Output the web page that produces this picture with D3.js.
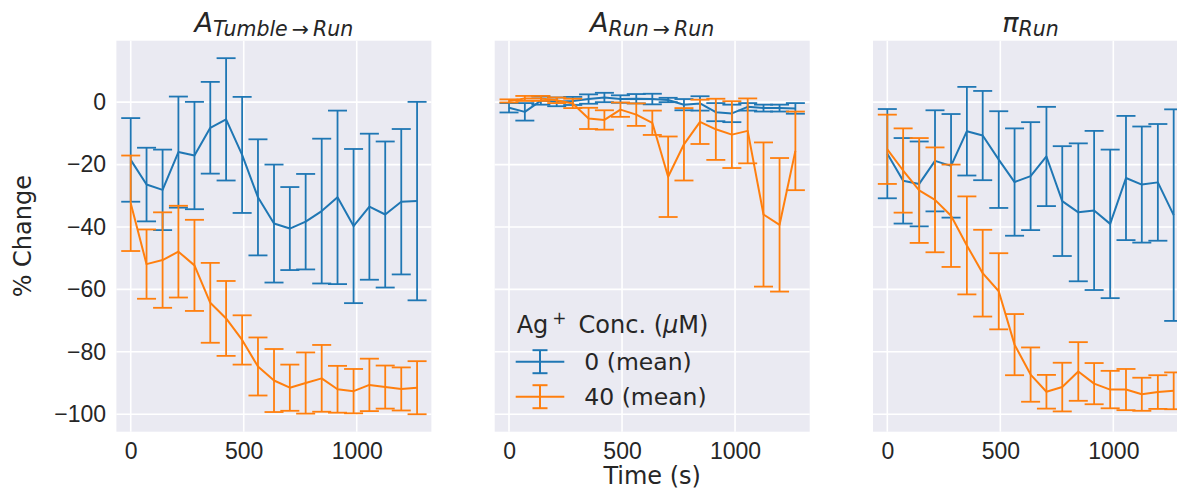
<!DOCTYPE html>
<meta charset="utf-8">
<title>Ag+ response</title>
<style>
body { margin: 0; background: #fff; }
svg { display: block; font-family: "DejaVu Sans", sans-serif; }
.tick text { fill: #262626; font-size: 23px; }
</style>
<svg width="1177" height="490"></svg>
<script src="https://cdn.jsdelivr.net/npm/d3@7"></script>
<script>

// sampling times (s)
var times = [0, 70, 141, 211, 282, 352, 422, 493, 563, 634, 704, 774, 845, 915, 986, 1056, 1126, 1197, 1267];

// A Tumble->Run, % change
var tumbleRunMean0  = [-18.5, -26.4, -28.1, -16.0, -17.1, -8.2, -5.5, -16.9, -30.5, -38.9, -40.5, -38.3, -34.9, -30.5, -39.7, -33.5, -36.0, -31.9, -31.7];
var tumbleRunErr0   = [13.4, 11.8, 12.9, 17.8, 17.2, 14.7, 19.6, 18.6, 18.6, 18.9, 13.3, 15.3, 23.2, 27.8, 24.7, 23.4, 23.4, 23.3, 31.8];
var tumbleRunMean40 = [-32.4, -51.9, -50.6, -47.9, -52.3, -64.3, -69.3, -76.2, -84.7, -89.2, -91.5, -90.0, -88.5, -92.0, -92.6, -90.6, -91.3, -91.9, -91.5];
var tumbleRunErr40  = [15.3, 11.1, 15.3, 14.7, 14.6, 12.8, 12.0, 7.9, 9.3, 10.1, 7.4, 9.8, 10.7, 7.5, 7.1, 8.4, 6.9, 6.9, 8.5];

// A Run->Run
var runRunMean0  = [-1.8, -3.1, 0.5, 0.1, 0.4, 1.0, 1.5, 1.0, 1.1, 1.0, 0.7, -0.8, -0.4, -3.2, -3.6, -1.5, -1.9, -1.9, -2.0];
var runRunErr0   = [1.5, 2.8, 1.3, 1.4, 1.3, 1.5, 1.5, 1.2, 1.5, 1.7, 0.7, 1.8, 2.3, 2.9, 2.8, 1.2, 1.1, 1.1, 1.7];
var runRunMean40 = [0.4, 1.2, 1.2, 0.6, -0.4, -5.2, -5.7, -2.4, -4.0, -6.6, -23.9, -13.5, -6.3, -8.7, -10.4, -9.2, -36.0, -39.3, -15.6];
var runRunErr40  = [0.5, 0.8, 0.8, 0.9, 1.5, 3.4, 3.1, 2.3, 3.6, 3.9, 12.9, 11.6, 7.1, 9.8, 10.7, 10.4, 23.1, 21.4, 12.6];

// pi Run
var piRunMean0  = [-16.5, -25.2, -26.2, -18.8, -20.4, -9.3, -10.7, -18.4, -25.6, -23.7, -17.4, -31.7, -35.3, -34.7, -39.0, -24.3, -26.4, -25.7, -36.2];
var piRunErr0   = [14.3, 13.7, 13.6, 16.2, 16.6, 14.2, 14.3, 15.5, 17.2, 17.3, 15.9, 17.6, 22.1, 25.5, 23.8, 19.9, 18.6, 18.7, 33.9];
var piRunMean40 = [-15.1, -21.9, -28.3, -31.3, -36.4, -45.9, -54.8, -60.6, -77.7, -87.3, -92.8, -91.3, -86.3, -90.2, -92.1, -92.1, -93.6, -92.9, -92.5];
var piRunErr40  = [11.1, 13.5, 16.8, 16.8, 16.4, 15.7, 13.9, 12.2, 9.8, 8.7, 5.4, 7.8, 9.4, 6.6, 6.0, 6.6, 5.3, 5.4, 5.9];

var concLabels = ["0 (mean)", "40 (mean)"];
var colors = ["#1f77b4", "#ff7f0e"];
var xTicks = [0, 500, 1000];
var yTicks = [0, -20, -40, -60, -80, -100];

var panels = [
  {main: "A", sub: "Tumble\u2009\u2192\u2009Run", series: [[tumbleRunMean0, tumbleRunErr0], [tumbleRunMean40, tumbleRunErr40]]},
  {main: "A", sub: "Run\u2009\u2192\u2009Run", series: [[runRunMean0, runRunErr0], [runRunMean40, runRunErr40]]},
  {main: "\u03c0", sub: "Run", series: [[piRunMean0, piRunErr0], [piRunMean40, piRunErr40]]}
];

var svg = d3.select("svg");
var pw = 315, ph = 391, plotTop = 40.7;
var lefts = [116.4, 494.7, 873];
var cap = 9.5;
var fmt = d3.format("d");

var x = d3.scaleLinear().domain([-63.35, 1330.35]).range([0, pw]);
var y = d3.scaleLinear().domain([-105.6, 19.7]).range([ph, 0]);

panels.forEach(function(p, i) {
  var g = svg.append("g").attr("transform", "translate(" + lefts[i] + "," + plotTop + ")");

  g.append("rect").attr("width", pw).attr("height", ph).attr("fill", "#eaeaf2");

  g.selectAll(".gy").data(yTicks).enter().append("line")
    .attr("x1", 0).attr("x2", pw)
    .attr("y1", function(d) { return y(d); }).attr("y2", function(d) { return y(d); })
    .attr("stroke", "#fff").attr("stroke-width", 1.6);
  g.selectAll(".gx").data(xTicks).enter().append("line")
    .attr("y1", 0).attr("y2", ph)
    .attr("x1", function(d) { return x(d); }).attr("x2", function(d) { return x(d); })
    .attr("stroke", "#fff").attr("stroke-width", 1.6);

  // x axis labels
  var xa = g.append("g").attr("transform", "translate(0," + ph + ")")
    .call(d3.axisBottom(x).tickValues(xTicks).tickFormat(fmt).tickSize(0).tickPadding(10.5));
  xa.select(".domain").remove();

  if (i === 0) {
    var ya = g.append("g")
      .call(d3.axisLeft(y).tickValues(yTicks).tickFormat(fmt).tickSize(0).tickPadding(10.4));
    ya.select(".domain").remove();
  }

  p.series.forEach(function(s, k) {
    var pts = times.map(function(t, j) { return {t: t, m: s[0][j], e: s[1][j]}; });
    var col = colors[k];

    g.append("path")
      .datum(pts)
      .attr("fill", "none")
      .attr("stroke", col)
      .attr("stroke-width", 2)
      .attr("stroke-linejoin", "round")
      .attr("d", d3.line().x(function(d) { return x(d.t); }).y(function(d) { return y(d.m); }));

    var eb = g.append("g").attr("stroke", col).attr("stroke-width", 1.8);
    eb.selectAll(".bar").data(pts).enter().append("line")
      .attr("x1", function(d) { return x(d.t); }).attr("x2", function(d) { return x(d.t); })
      .attr("y1", function(d) { return y(d.m - d.e); }).attr("y2", function(d) { return y(d.m + d.e); });
    [-1, 1].forEach(function(sgn) {
      eb.selectAll(".cap" + sgn).data(pts).enter().append("line")
        .attr("x1", function(d) { return x(d.t) - cap; }).attr("x2", function(d) { return x(d.t) + cap; })
        .attr("y1", function(d) { return y(d.m + sgn * d.e); }).attr("y2", function(d) { return y(d.m + sgn * d.e); });
    });
  });

  // panel title
  var tt = svg.append("text")
    .attr("x", lefts[i] + pw / 2).attr("y", 31.7)
    .attr("text-anchor", "middle")
    .attr("font-style", "italic")
    .attr("fill", "#262626");
  tt.append("tspan").attr("font-size", 27).text(p.main);
  tt.append("tspan").attr("font-size", 20.5).attr("dy", 4.5).text(p.sub);
});

// axis titles
svg.append("text")
  .attr("transform", "translate(31," + (plotTop + ph / 2) + ") rotate(-90)")
  .attr("text-anchor", "middle").attr("font-size", 24).attr("fill", "#262626")
  .text("% Change");
svg.append("text")
  .attr("x", lefts[1] + pw / 2).attr("y", 484)
  .attr("text-anchor", "middle").attr("font-size", 24).attr("fill", "#262626")
  .text("Time (s)");

// legend
var lg = svg.append("g").attr("fill", "#262626").attr("font-size", 23.5);
var lt = lg.append("text").attr("x", 516.7).attr("y", 333).attr("font-size", 24);
lt.append("tspan").text("Ag");
lt.append("tspan").attr("font-size", 17).attr("dx", 4).attr("dy", -9).text("+");
lt.append("tspan").attr("dy", 9).text("\u2002Conc. (");
lt.append("tspan").attr("font-style", "italic").text("\u03bc");
lt.append("tspan").text("M)");

concLabels.forEach(function(label, k) {
  var cy = 361.7 + k * 35;
  var h = lg.append("g").attr("stroke", colors[k]).attr("stroke-width", 2);
  h.append("line").attr("x1", 515.7).attr("x2", 564.3).attr("y1", cy).attr("y2", cy);
  h.append("line").attr("x1", 540).attr("x2", 540).attr("y1", cy - 11.5).attr("y2", cy + 11.5);
  h.append("line").attr("x1", 532.5).attr("x2", 547.5).attr("y1", cy - 11.5).attr("y2", cy - 11.5);
  h.append("line").attr("x1", 532.5).attr("x2", 547.5).attr("y1", cy + 11.5).attr("y2", cy + 11.5);
  lg.append("text").attr("x", 584.3).attr("y", cy + 8.5).text(label);
});

</script>
